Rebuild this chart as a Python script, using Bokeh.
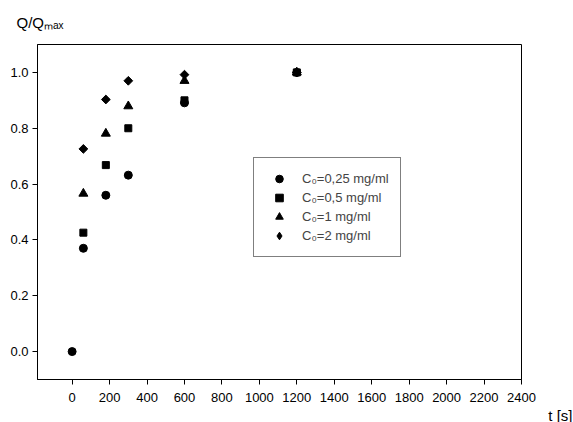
import math
from bokeh.plotting import figure
from bokeh.models import (FixedTicker, PrintfTickFormatter, Legend, LegendItem,
                          Range1d, Title)
from bokeh.embed import file_html
from bokeh.resources import INLINE

# ---- data ----
t_all = [0, 60, 180, 300, 600, 1200]
t_rest = [60, 180, 300, 600, 1200]
q_c025 = [0.0, 0.370, 0.560, 0.632, 0.891, 1.0]
q_c05 = [0.426, 0.668, 0.800, 0.900, 1.0]
q_c1 = [0.566, 0.781, 0.879, 0.970, 1.0]
q_c2 = [0.726, 0.903, 0.970, 0.992, 1.0]
labels = ["C\u2080=0,25 mg/ml", "C\u2080=0,5 mg/ml", "C\u2080=1 mg/ml", "C\u2080=2 mg/ml"]
x_ticks = list(range(0, 2401, 200))
y_ticks = [0.0, 0.2, 0.4, 0.6, 0.8, 1.0]
y_title = "Q/Q\u2098\u2090\u2093"
x_title = "t [s]"

FONT = "Liberation Sans"

p = figure(frame_width=484, frame_height=335, output_backend="svg",
           toolbar_location=None, x_range=Range1d(-185, 2400),
           y_range=Range1d(-0.1, 1.1),
           min_border_left=37, min_border_right=52,
           min_border_top=44, min_border_bottom=43)
p.outline_line_color = "black"
p.outline_line_width = 1
p.grid.visible = False
p.background_fill_color = "white"
p.border_fill_color = "white"

p.title.text = y_title
p.title.align = "left"
p.title.offset = -21
p.title.vertical_align = "middle"
p.title.standoff = 25
p.title.text_font = FONT
p.title.text_font_size = "15px"
p.title.text_font_style = "normal"
p.title.text_color = "black"

for ax in (p.xaxis[0], p.yaxis[0]):
    ax.axis_line_color = "black"
    ax.major_tick_line_color = "black"
    ax.major_tick_out = 5
    ax.major_tick_in = 0
    ax.minor_tick_line_color = None
    ax.major_label_text_font = FONT
    ax.major_label_text_font_size = "13px"
    ax.major_label_text_color = "black"

p.xaxis[0].ticker = FixedTicker(ticks=x_ticks)
p.xaxis[0].major_label_standoff = 8
p.yaxis[0].ticker = FixedTicker(ticks=y_ticks)
p.yaxis[0].formatter = PrintfTickFormatter(format="%.1f")
p.yaxis[0].major_label_standoff = 4

r1 = p.scatter(t_all, q_c025, marker="circle", size=8, color="black")
r2 = p.scatter(t_rest, q_c05, marker="square", size=7, color="black")
r3 = p.scatter(t_rest, q_c1, marker="triangle", size=9, color="black")
# diamond-shaped legend icon for the last series (hidden under the markers)
r4_icon = p.scatter(t_rest, q_c2, marker="diamond", size=6, color="black")
r4 = p.scatter(t_rest, q_c2, marker="square", size=6.2, angle=math.pi / 4,
               color="black")

legend = Legend(items=[LegendItem(label=labels[i], renderers=[r])
                       for i, r in enumerate([r1, r2, r3, r4_icon])],
                location=(216, 122), padding=11, spacing=0,
                glyph_width=28, glyph_height=19, label_height=19,
                label_width=87, label_standoff=9,
                label_text_font=FONT, label_text_font_size="13px",
                border_line_color="black", border_line_width=1,
                background_fill_color="white", background_fill_alpha=1,
                margin=0)
p.add_layout(legend, "center")

p.add_layout(Title(text=x_title, align="right", offset=-51,
                   text_font=FONT, text_font_size="15px",
                   text_font_style="normal", text_color="black",
                   standoff=0), "below")

open("out.html", "w").write(file_html(p, INLINE))
